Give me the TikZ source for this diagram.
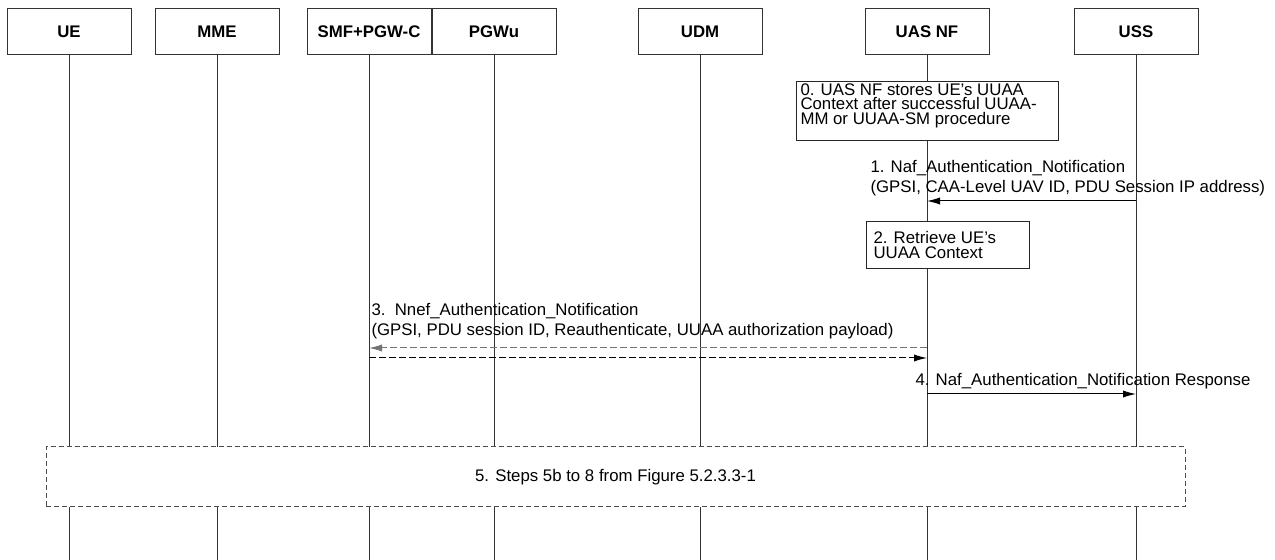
\documentclass[tikz,border=0pt]{standalone}
\usepackage{fontspec}
\setmainfont{Liberation Sans}
\usetikzlibrary{arrows.meta}
\begin{document}
\begin{tikzpicture}[
                        x=0.5pt, y=-0.5pt,
                        >={Latex[length=6.5pt,width=3.6pt]},
                        line width=0.5pt,
                        entity/.style={rectangle, draw=black!80, fill=white, minimum width=62pt, minimum height=23pt, inner sep=0pt, font=\fontsize{8.4pt}{10pt}\selectfont\bfseries},
                        life/.style={draw=black!80},
                        notebox/.style={rectangle, draw=black!85, fill=white, inner sep=0pt, anchor=north west},
                        notetext/.style={align=left, inner sep=0pt, anchor=north west, font=\fontsize{8.4pt}{7.3pt}\selectfont},
                        msgtext/.style={align=left, inner sep=0pt, anchor=south west, font=\fontsize{8.4pt}{10pt}\selectfont},
                        msg/.style={->, draw=black},
                        reply/.style={->, dash pattern=on 3.5pt off 1.5pt}
                    ]
                    \useasboundingbox (0,0) rectangle (1275,560);
                    % Blocks
                    \node [entity] (ue) at (69,32) {UE};
                    \node [entity] (mme) at (217,32) {MME};
                    \node [entity] (smf) at (369,32) {SMF+PGW-C};
                    \node [entity] (pgwu) at (494,32) {PGWu};
                    \node [entity] (udm) at (700,32) {UDM};
                    \node [entity] (uas) at (927,32) {UAS NF};
                    \node [entity] (uss) at (1136,32) {USS};
                    \coordinate (bottom) at (0,560);

                    % Lifelines
                    \foreach \n in {ue,mme,smf,pgwu,udm,uas,uss}
                        \draw [life] (\n) -- (\n |- bottom);

                    % Step 0
                    \node [notebox, minimum width=131pt, minimum height=29.5pt] (s0) at (796,81) {};
                    \node [notetext] (s0t) at ([xshift=2pt,yshift=-1pt]s0.north west) {0. UAS NF stores UE's UUAA\\Context after successful UUAA-\\MM or UUAA-SM procedure};

                    % Step 1
                    \coordinate (uss1) at (uss |- 0,201);
                    \coordinate (uas1) at (uas |- 0,201);
                    \draw [msg] (uss1) -- (uas1);
                    \node [msgtext] (m1) at (870,196) {1. Naf\_Authentication\_Notification\\(GPSI, CAA-Level UAV ID, PDU Session IP address)};

                    % Step 2
                    \node [notebox, minimum width=81.5pt, minimum height=23.5pt] (s2) at (866,221) {};
                    \node [notetext] (s2t) at ([xshift=3.5pt,yshift=-5pt]s2.north west) {2. Retrieve UE's\\UUAA Context};

                    % Step 3
                    \coordinate (uas3a) at (uas |- 0,348);
                    \coordinate (smf3a) at (smf |- 0,348);
                    \coordinate (smf3b) at (smf |- 0,358);
                    \coordinate (uas3b) at (uas |- 0,358);
                    \draw [reply, draw=black!55] (uas3a) -- (smf3a);
                    \draw [reply] (smf3b) -- (uas3b);
                    \node [msgtext] (m3) at (371,339) {3.\ \ Nnef\_Authentication\_Notification\\(GPSI, PDU session ID, Reauthenticate, UUAA authorization payload)};

                    % Step 4
                    \coordinate (uas4) at (uas |- 0,394);
                    \coordinate (uss4) at (uss |- 0,394);
                    \draw [msg] (uas4) -- (uss4);
                    \node [msgtext] (m4) at (915,389) {4. Naf\_Authentication\_Notification Response};

                    % Step 5
                    \node [notebox, anchor=center, draw=black!70, dash pattern=on 2.5pt off 1.5pt, minimum width=569.5pt, minimum height=30pt, font=\fontsize{8.4pt}{10pt}\selectfont] (s5) at (615.5,477) {5. Steps 5b to 8 from Figure 5.2.3.3-1};
                \end{tikzpicture}
\end{document}
